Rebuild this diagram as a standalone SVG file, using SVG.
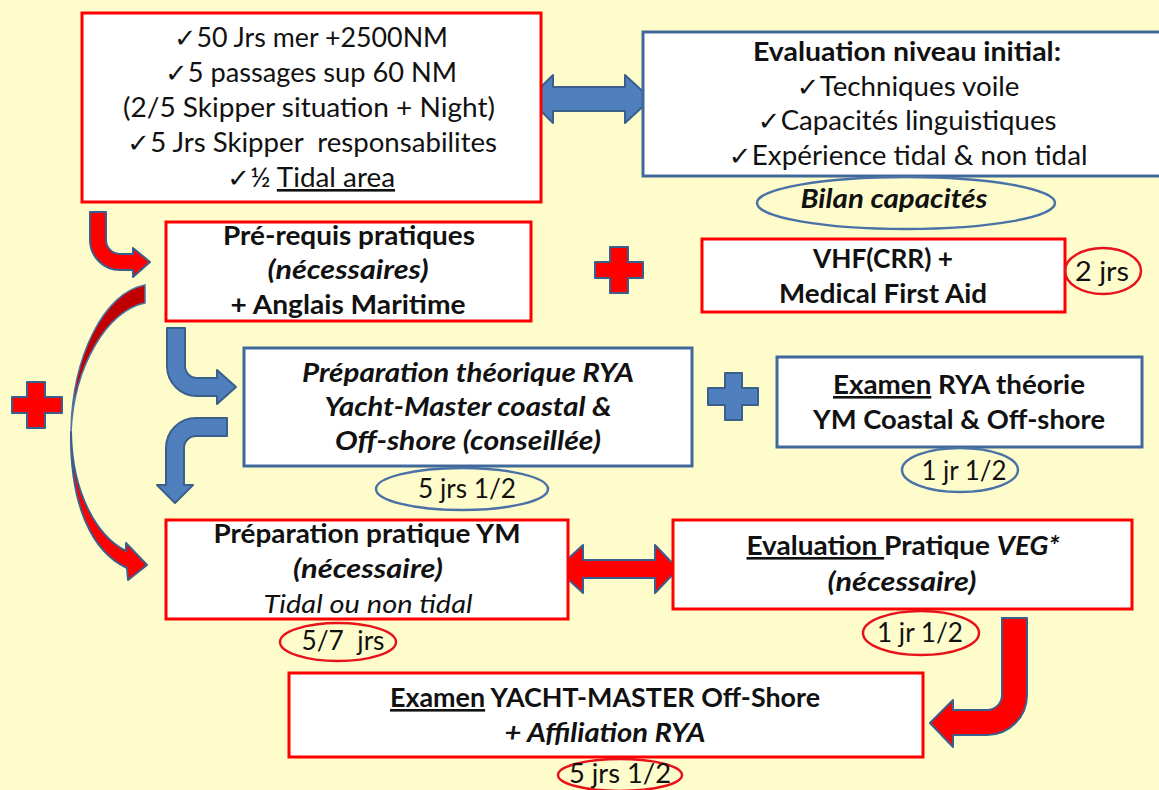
<svg xmlns="http://www.w3.org/2000/svg" width="1159" height="790" viewBox="0 0 1159 790">
<style>
text{font-family:Lato,"Liberation Sans","DejaVu Sans",sans-serif;font-size:26px;fill:#111;text-anchor:middle}
.b{font-weight:bold}
.i{font-style:italic}
.u{text-decoration:underline}
.rbox{fill:#fff;stroke:#ff0000;stroke-width:3}
.bbox{fill:#fff;stroke:#41689a;stroke-width:3}
.rell{fill:none;stroke:#e8131a;stroke-width:2.5}
.bell{fill:none;stroke:#4a72a6;stroke-width:2.5}
.barrow{fill:#4f7fbd;stroke:#3a5f8c;stroke-width:2;stroke-linejoin:round}
.rarrow{fill:#ff0000;stroke:#3a5f8c;stroke-width:2;stroke-linejoin:round}
</style>
<rect x="0" y="0" width="1159" height="790" fill="#fffccc"/>

<g id="connectors">
<path class="barrow" d="M529,99 L553,75 L553,87 L625,87 L625,75 L651,99 L625,123 L625,111 L553,111 L553,123 Z"/>
<path class="rarrow" d="M557,569 L583,545 L583,560 L655,560 L655,545 L678,569 L655,593 L655,578 L583,578 L583,593 Z"/>
<path class="rarrow" d="M90,212 L90,240 A30,30 0 0 0 120,270 L133,270 L133,277 L150,262 L133,248 L133,254 L120,254 A14,14 0 0 1 106,240 L106,212 Z"/>
<path class="barrow" d="M167,328 L167,366 A30,30 0 0 0 197,396 L217,396 L217,404 L236,387 L217,370 L217,378 L197,378 A12,12 0 0 1 185,366 L185,328 Z"/>
<path class="barrow" d="M227,418 L196,418 A30,30 0 0 0 166,448 L166,485 L157,485 L175,503 L193,485 L184,485 L184,448 A12,12 0 0 1 196,436 L227,436 Z"/>
<path class="rarrow" d="M1002,618 L1027,618 L1027,695 A40,40 0 0 1 987,735 L953,735 L953,747 L930,723 L953,700 L953,710 L987,710 A15,15 0 0 0 1002,695 Z"/>
<path fill="#c00000" stroke="#4a72a6" stroke-width="1.5" d="M145,285 C105,292 72,355 71,432 C74,365 108,310 145,303 Z"/>
<path class="rarrow" stroke-width="1.5" d="M71,432 C72,495 98,537 126,551 L126,543 L147,565 L128,580 L127,568 C92,552 70,505 71,432 Z"/>
</g>

<g id="plus-left"><path class="rarrow" d="M27,382 H45 V397 H62 V413 H45 V428 H27 V413 H12 V397 H27 Z"/></g>
<g id="plus-red"><path class="rarrow" d="M610,247 H628 V262 H643 V278 H628 V293 H610 V278 H595 V262 H610 Z"/></g>
<g id="plus-blue"><path class="barrow" d="M725,373 H742 V388 H758 V405 H742 V420 H725 V405 H708 V388 H725 Z"/></g>

<g id="prerequis-experience">
<rect class="rbox" x="82" y="13" width="459" height="189"/>
<text x="311" y="47" textLength="274" lengthAdjust="spacingAndGlyphs">✓50 Jrs mer +2500NM</text>
<text x="311" y="82" textLength="292" lengthAdjust="spacingAndGlyphs">✓5 passages sup 60 NM</text>
<text x="309" y="117" textLength="372" lengthAdjust="spacingAndGlyphs">(2/5 Skipper situation + Night)</text>
<text x="312" y="152" xml:space="preserve" textLength="370" lengthAdjust="spacingAndGlyphs">✓5 Jrs Skipper  responsabilites</text>
<text x="311" y="187" textLength="168" lengthAdjust="spacingAndGlyphs">✓½ <tspan class="u">Tidal area</tspan></text>
</g>

<g id="evaluation-initiale">
<rect class="bbox" x="643" y="32" width="520" height="144"/>
<text class="b" x="907" y="61" textLength="308" lengthAdjust="spacingAndGlyphs">Evaluation niveau initial:</text>
<text x="908" y="96" textLength="223" lengthAdjust="spacingAndGlyphs">✓Techniques voile</text>
<text x="907" y="130" textLength="299" lengthAdjust="spacingAndGlyphs">✓Capacités linguistiques</text>
<text x="908" y="165" textLength="359" lengthAdjust="spacingAndGlyphs">✓Expérience tidal &amp; non tidal</text>
</g>

<g id="bilan">
<ellipse class="bell" cx="906" cy="203" rx="149" ry="26"/>
<text class="b i" x="894" y="208" textLength="187" lengthAdjust="spacingAndGlyphs">Bilan capacités</text>
</g>

<g id="prerequis-pratiques">
<rect class="rbox" x="166" y="222" width="365" height="99"/>
<text class="b" x="349" y="245" textLength="252" lengthAdjust="spacingAndGlyphs">Pré-requis pratiques</text>
<text class="b i" x="348" y="279" textLength="161" lengthAdjust="spacingAndGlyphs">(nécessaires)</text>
<text class="b" x="348" y="314" textLength="235" lengthAdjust="spacingAndGlyphs">+ Anglais Maritime</text>
</g>

<g id="vhf">
<rect class="rbox" x="702" y="239" width="363" height="73"/>
<text class="b" x="883" y="268" textLength="140" lengthAdjust="spacingAndGlyphs">VHF(CRR) +</text>
<text class="b" x="883" y="303" textLength="208" lengthAdjust="spacingAndGlyphs">Medical First Aid</text>
</g>
<g id="vhf-duree">
<ellipse class="rell" cx="1103" cy="271" rx="38" ry="23"/>
<text x="1102" y="281" textLength="54" lengthAdjust="spacingAndGlyphs">2 jrs</text>
</g>

<g id="preparation-theorique">
<rect class="bbox" x="244" y="348" width="448" height="118"/>
<text class="b i" x="468" y="382" textLength="332" lengthAdjust="spacingAndGlyphs">Préparation théorique RYA</text>
<text class="b i" x="468" y="416" textLength="287" lengthAdjust="spacingAndGlyphs">Yacht-Master coastal &amp;</text>
<text class="b i" x="468" y="450" textLength="266" lengthAdjust="spacingAndGlyphs">Off-shore (conseillée)</text>
</g>
<g id="theorique-duree">
<ellipse class="bell" cx="462" cy="489" rx="86" ry="21"/>
<text x="467" y="498" textLength="98" lengthAdjust="spacingAndGlyphs">5 jrs 1/2</text>
</g>

<g id="examen-theorie">
<rect class="bbox" x="777" y="357" width="365" height="90"/>
<text class="b" x="959" y="394" textLength="252" lengthAdjust="spacingAndGlyphs"><tspan class="u">Examen</tspan> RYA théorie</text>
<text class="b" x="959" y="429" textLength="292" lengthAdjust="spacingAndGlyphs">YM Coastal &amp; Off-shore</text>
</g>
<g id="examen-theorie-duree">
<ellipse class="bell" cx="960" cy="470" rx="58" ry="22"/>
<text x="964" y="480" textLength="85" lengthAdjust="spacingAndGlyphs">1 jr 1/2</text>
</g>

<g id="preparation-pratique">
<rect class="rbox" x="166" y="520" width="402" height="99"/>
<text class="b" x="367" y="543" textLength="307" lengthAdjust="spacingAndGlyphs">Préparation pratique YM</text>
<text class="b i" x="368" y="578" textLength="150" lengthAdjust="spacingAndGlyphs">(nécessaire)</text>
<text class="i" x="368" y="613" textLength="209" lengthAdjust="spacingAndGlyphs">Tidal ou non tidal</text>
</g>
<g id="pratique-duree">
<ellipse class="rell" cx="338" cy="642" rx="58" ry="19"/>
<text x="343" y="650" xml:space="preserve" textLength="83" lengthAdjust="spacingAndGlyphs">5/7  jrs</text>
</g>

<g id="evaluation-pratique">
<rect class="rbox" x="673" y="520" width="459" height="89"/>
<text class="b" x="903" y="555" textLength="313" lengthAdjust="spacingAndGlyphs"><tspan class="u">Evaluation </tspan>Pratique <tspan class="i">VEG*</tspan></text>
<text class="b i" x="902" y="591" textLength="149" lengthAdjust="spacingAndGlyphs">(nécessaire)</text>
</g>
<g id="evaluation-pratique-duree">
<ellipse class="rell" cx="921" cy="633" rx="58" ry="22"/>
<text x="920" y="642" textLength="86" lengthAdjust="spacingAndGlyphs">1 jr 1/2</text>
</g>

<g id="examen-yachtmaster">
<rect class="rbox" x="289" y="673" width="634" height="84"/>
<text class="b" x="605" y="707" textLength="430" lengthAdjust="spacingAndGlyphs"><tspan class="u">Examen</tspan> YACHT-MASTER Off-Shore</text>
<text class="b i" x="605" y="742" textLength="201" lengthAdjust="spacingAndGlyphs">+ Affiliation RYA</text>
</g>
<g id="examen-duree">
<ellipse class="rell" cx="620" cy="775" rx="62" ry="16"/>
<text x="620" y="783" textLength="102" lengthAdjust="spacingAndGlyphs">5 jrs 1/2</text>
</g>
</svg>
